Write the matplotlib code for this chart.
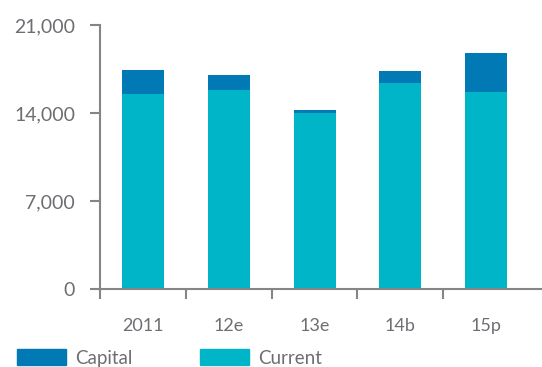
import numpy as np
import matplotlib
matplotlib.use('Agg')
import matplotlib.pyplot as plt
from matplotlib.patches import Patch

years = ['2011', '12e', '13e', '14b', '15p']
current = [15500, 15850, 13980, 16350, 15650]
capital = [1900, 1180, 260, 990, 3120]

C_CAP, C_CUR = '#0079b4', '#00b5c8'
GREY, TXT = '#858589', '#6d6e72'
plt.rcParams.update({'font.family': 'Lato'})

fig = plt.figure(figsize=(5.42, 3.67), dpi=100)
ax = fig.add_axes([0.1845, 0.2125, 1 - 0.1845, 0.7195])

x = np.arange(len(years))
ax.bar(x, current, width=0.49, color=C_CUR)
ax.bar(x, capital, bottom=current, width=0.49, color=C_CAP)

ax.set_xlim(-0.5, 4.65)
ax.set_ylim(0, 21000)
ax.set_yticks([0, 7000, 14000, 21000])
ax.set_yticklabels(['0', '7,000', '14,000', '21,000'])
ax.set_xticks(x)
ax.set_xticklabels(years)
ax.set_xticks(np.arange(-0.5, 4, 1), minor=True)

for s in ['top', 'right']:
    ax.spines[s].set_visible(False)
for s in ['left', 'bottom']:
    ax.spines[s].set_color(GREY)
    ax.spines[s].set_linewidth(1.5)
ax.tick_params(axis='y', length=7, width=1.5, color=GREY, labelcolor=TXT,
               labelsize=14, pad=11)
ax.tick_params(axis='x', which='major', length=0, labelcolor=TXT,
               labelsize=13, pad=21)
ax.tick_params(axis='x', which='minor', length=7, width=1.5, color=GREY)

handles = [Patch(color=C_CAP, label='Capital'),
           Patch(color=C_CUR, label='Current')]
fig.legend(handles=handles, loc='lower left', bbox_to_anchor=(0.0, -0.045),
           ncol=2, frameon=False, fontsize=13.5, labelcolor=TXT,
           handlelength=2.6, handleheight=0.9, columnspacing=3.6,
           handletextpad=0.5)

fig.savefig('out.png', dpi=100)
